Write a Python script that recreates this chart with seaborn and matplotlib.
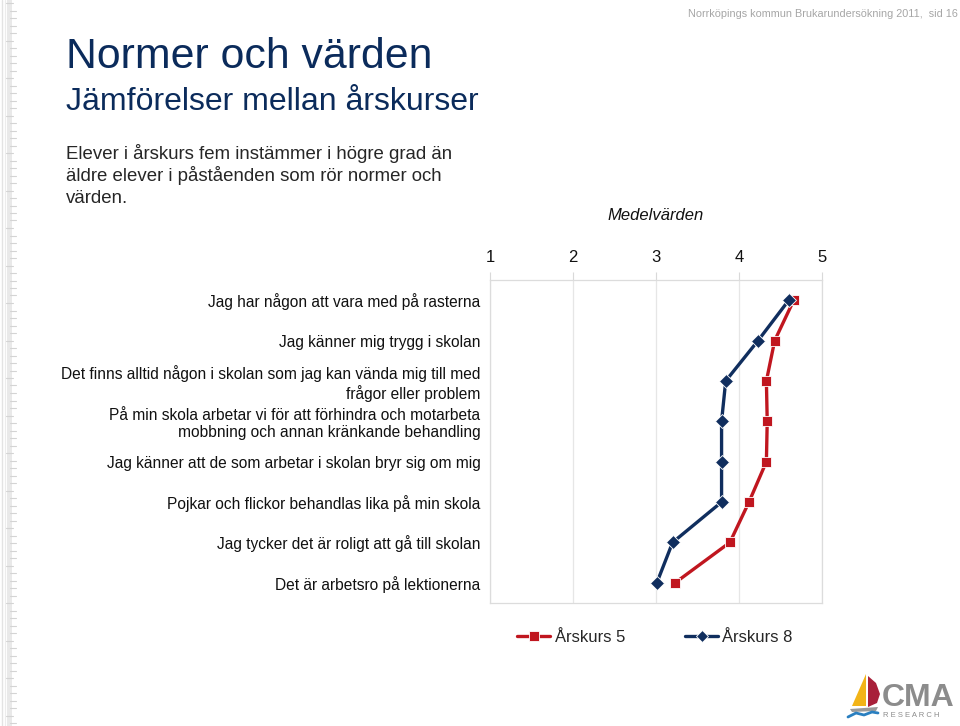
import matplotlib
matplotlib.use("Agg")
import matplotlib.pyplot as plt
from matplotlib.lines import Line2D
from matplotlib.patches import Polygon, Rectangle
import seaborn as sns
import pandas as pd

# ---- data ----
categories = [
    "Jag har någon att vara med på rasterna",
    "Jag känner mig trygg i skolan",
    "Det finns alltid någon i skolan som jag kan vända mig till med\nfrågor eller problem",
    "På min skola arbetar vi för att förhindra och motarbeta\nmobbning och annan kränkande behandling",
    "Jag känner att de som arbetar i skolan bryr sig om mig",
    "Pojkar och flickor behandlas lika på min skola",
    "Jag tycker det är roligt att gå till skolan",
    "Det är arbetsro på lektionerna",
]
series_names = ["Årskurs 5", "Årskurs 8"]
ak5 = [4.66, 4.43, 4.33, 4.34, 4.33, 4.12, 3.89, 3.23]
ak8 = [4.60, 4.23, 3.84, 3.79, 3.79, 3.79, 3.20, 3.01]
x_ticks = [1, 2, 3, 4, 5]

RED = "#c0161f"
NAVY = "#102e5e"
TITLE = "#0b2b5b"

rows = []
for name, vals in zip(series_names, [ak5, ak8]):
    for i, v in enumerate(vals):
        rows.append({"serie": name, "pos": i, "värde": v})
df = pd.DataFrame(rows)

sns.set_theme(style="white")
plt.rcParams["font.family"] = ["Liberation Sans", "DejaVu Sans"]

W, H = 960, 726
fig = plt.figure(figsize=(W / 100, H / 100), dpi=100)
fig.patch.set_facecolor("white")

def fx(x):
    return x / W

def fy(y):
    return 1 - y / H

# axes: x 490..822, y 280..603
ax = fig.add_axes([fx(490), fy(603), (822 - 490) / W, (603 - 280) / H])

sns.lineplot(
    data=df, x="värde", y="pos", hue="serie", style="serie",
    palette={"Årskurs 5": RED, "Årskurs 8": NAVY},
    markers={"Årskurs 5": "s", "Årskurs 8": "D"},
    dashes=False, sort=False, orient="y", estimator=None,
    linewidth=2.4, markersize=7, markeredgecolor="white", markeredgewidth=0.6,
    ax=ax, legend=False,
)

ax.set_xlim(1, 5)
ax.set_ylim(7.5, -0.5)
ax.set_xticks(x_ticks)
ax.set_xticklabels([str(t) for t in x_ticks])
ax.xaxis.tick_top()
ax.tick_params(axis="x", which="both", top=True, bottom=False, length=6,
               width=0.8, color="#d9d9d9", labelsize=12, pad=5,
               labelcolor="#111111")
ax.set_yticks(range(len(categories)))
ax.set_yticklabels(categories, fontsize=11.2, color="#111111", linespacing=1.2)
ax.tick_params(axis="y", length=0, pad=7)
ax.grid(axis="x", color="#e6e6e6", linewidth=0.9)
ax.grid(axis="y", visible=False)
for s in ax.spines.values():
    s.set_color("#dcdcdc")
    s.set_linewidth(0.9)
ax.set_xlabel("")
ax.set_ylabel("")

# Medelvärden label
fig.text(fx(656), fy(216), "Medelvärden", fontsize=12, style="italic",
         ha="center", va="center", color="#111111")

# legend
handles = [
    Line2D([], [], color=RED, lw=2.4, marker="s", markersize=7,
           markeredgecolor="white", markeredgewidth=0.6),
    Line2D([], [], color=NAVY, lw=2.4, marker="D", markersize=6,
           markeredgecolor="white", markeredgewidth=0.6),
]
fig.legend(handles, series_names, loc="center", bbox_to_anchor=(fx(655), fy(637)),
           ncol=2, frameon=False, fontsize=12, handlelength=2.0,
           handletextpad=0.25, columnspacing=3.6)

# titles
fig.text(fx(66), fy(68), "Normer och värden", fontsize=30.8, color=TITLE,
         ha="left", va="baseline")
fig.text(fx(66), fy(110), "Jämförelser mellan årskurser", fontsize=23,
         color=TITLE, ha="left", va="baseline")
body = ["Elever i årskurs fem instämmer i högre grad än",
        "äldre elever i påståenden som rör normer och",
        "värden."]
for i, line in enumerate(body):
    fig.text(fx(66), fy(159 + 22 * i), line, fontsize=13.45, color="#262626",
             ha="left", va="baseline")

fig.text(fx(958), fy(17), "Norrköpings kommun Brukarundersökning 2011,  sid 16",
         fontsize=7.8, color="#a6a6a6", ha="right", va="baseline")

# left ruler decoration
fig.add_artist(Line2D([fx(1.5), fx(1.5)], [0, 1], color="#e3e3e3", lw=1))
fig.add_artist(Line2D([fx(4.5), fx(4.5)], [0, 1], color="#ececec", lw=0.8))
fig.add_artist(Rectangle((fx(6.5), 0), fx(5), 1, color="#e9e9e9", lw=0))
y = 3.0
k = 0
while y < H:
    x1 = 15.5 if k % 5 else 13
    x0 = 10 if k % 5 else 6
    fig.add_artist(Line2D([fx(x0), fx(x1)], [fy(y), fy(y)], color="#d4d4d4", lw=0.8))
    y += 7.5
    k += 1

# CMA logo
fig.add_artist(Polygon([(fx(866), fy(674)), (fx(852), fy(706)), (fx(866), fy(706))],
                       closed=True, color="#f2b418", lw=0))
fig.add_artist(Polygon([(fx(868), fy(676)), (fx(876), fy(683)), (fx(880), fy(694)),
                        (fx(877), fy(703)), (fx(868), fy(707))],
                       closed=True, color="#a8203a", lw=0))
fig.add_artist(Polygon([(fx(850), fy(709)), (fx(878), fy(707)), (fx(876), fy(711)),
                        (fx(852), fy(712))], closed=True, color="#9a9a9a", lw=0))
fig.add_artist(Line2D([fx(848), fx(856), fx(864), fx(872), fx(878)],
                      [fy(717), fy(713), fy(715), fy(712), fy(713)],
                      color="#2a7fc0", lw=2))
fig.text(fx(882), fy(706), "CMA", fontsize=23, fontweight="bold", color="#8c8c8c",
         ha="left", va="baseline")
fig.text(fx(883), fy(717), "R E S E A R C H", fontsize=5.5, color="#8c8c8c",
         ha="left", va="baseline")

fig.savefig("out.png", dpi=100, facecolor="white")
